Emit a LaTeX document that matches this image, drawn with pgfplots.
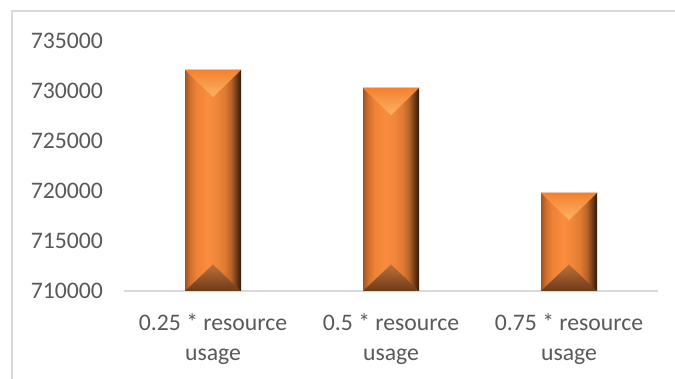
\documentclass[border=0pt]{standalone}
\usepackage{pgfplots}
\pgfplotsset{compat=1.18}
\usepackage{fontspec}
\setmainfont{Carlito}

\definecolor{txt}{HTML}{595959}
\definecolor{rulegray}{HTML}{D9D9D9}
% body of the bars: lit left of centre, dark on the right edge
\definecolor{b0}{HTML}{A05424}
\definecolor{b1}{HTML}{CC6E2E}
\definecolor{b2}{HTML}{EE8236}
\definecolor{b3}{HTML}{FA8C3E}
\definecolor{b4}{HTML}{F2873A}
\definecolor{b5}{HTML}{E07B33}
\definecolor{b6}{HTML}{B86428}
\definecolor{b7}{HTML}{6E3A16}
\definecolor{b8}{HTML}{2E1808}
% bevels
\definecolor{tA}{HTML}{F3812E}
\definecolor{tB}{HTML}{FCB469}
\definecolor{uA}{HTML}{BC703C}
\definecolor{uB}{HTML}{6E3A18}
\definecolor{rim}{HTML}{F2C3A2}

\pgfdeclarehorizontalshading{barbody}{100bp}{color(0bp)=(b0); color(25bp)=(b0);
  color(29bp)=(b1); color(35bp)=(b2); color(45bp)=(b3); color(52bp)=(b4);
  color(60bp)=(b5); color(66bp)=(b6); color(71bp)=(b7); color(75bp)=(b8); color(100bp)=(b8)}
\pgfdeclareverticalshading{topbevel}{100bp}{color(0bp)=(tB); color(25bp)=(tB);
  color(75bp)=(tA); color(100bp)=(tA)}
\pgfdeclareverticalshading{footbevel}{100bp}{color(0bp)=(uB); color(25bp)=(uB);
  color(75bp)=(uA); color(100bp)=(uA)}

\begin{document}
\begin{tikzpicture}[x=1pt,y=1pt]
\useasboundingbox (0,0) rectangle (337.5,189.5);
\draw[rulegray, line width=0.7pt] (6,0) -- (6,184) -- (337.5,184);
\begin{axis}[
  at={(62pt,44pt)}, anchor=south west,
  scale only axis, width=267pt, height=125pt,
  xmin=-0.5, xmax=2.5, ymin=710000, ymax=735000,
  xtick={0,1,2},
  xticklabels={{0.25 * resource\\usage},{0.5 * resource\\usage},{0.75 * resource\\usage}},
  ytick={710000,715000,720000,725000,730000,735000},
  scaled y ticks=false,
  /pgf/number format/assume math mode=true,
  yticklabel style={/pgf/number format/fixed, /pgf/number format/1000 sep={},
    /pgf/number format/precision=0, xshift=-7pt},
  axis lines*=left,
  y axis line style={draw=none},
  x axis line style={rulegray, line width=0.7pt},
  major tick length=0pt,
  tick label style={font=\fontsize{11.85}{15}\selectfont, text=txt},
  xticklabel style={align=center, yshift=-8pt},
]
% bar bodies
\addplot[ybar, bar width=0.3146, bar shift=0pt, draw=none, shading=barbody] coordinates {(0,732100)};
\addplot[ybar, bar width=0.3146, bar shift=0pt, draw=none, shading=barbody] coordinates {(1,730300)};
\addplot[ybar, bar width=0.3146, bar shift=0pt, draw=none, shading=barbody] coordinates {(2,719800)};
% top bevels
\addplot[draw=none, shading=topbevel] coordinates {(-0.1573,732100) (0.1573,732100) (0,729400)} -- cycle;
\addplot[draw=none, shading=topbevel] coordinates {(0.8427,730300) (1.1573,730300) (1,727600)} -- cycle;
\addplot[draw=none, shading=topbevel] coordinates {(1.8427,719800) (2.1573,719800) (2,717100)} -- cycle;
% light rim along the top of each bar
\addplot[rim, line width=0.5pt] coordinates {(-0.1573,732100) (0.1573,732100)};
\addplot[rim, line width=0.5pt] coordinates {(0.8427,730300) (1.1573,730300)};
\addplot[rim, line width=0.5pt] coordinates {(1.8427,719800) (2.1573,719800)};
% foot bevels
\addplot[draw=none, shading=footbevel] coordinates {(-0.1573,710000) (0.1573,710000) (0,712650)} -- cycle;
\addplot[draw=none, shading=footbevel] coordinates {(0.8427,710000) (1.1573,710000) (1,712650)} -- cycle;
\addplot[draw=none, shading=footbevel] coordinates {(1.8427,710000) (2.1573,710000) (2,712650)} -- cycle;
\end{axis}
\end{tikzpicture}
\end{document}
